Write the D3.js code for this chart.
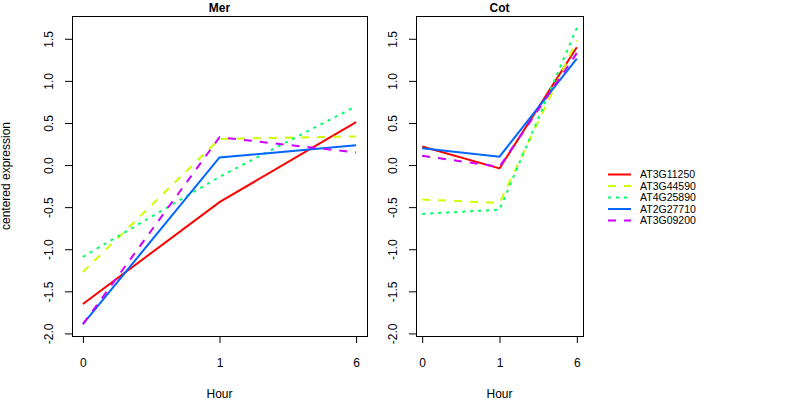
<!DOCTYPE html>
<html>
<head>
<meta charset="utf-8">
<script src="https://cdn.jsdelivr.net/npm/d3@7"></script>
<style>
  body { margin: 0; background: #fff; }
  text { font-family: "Liberation Sans", Arial, sans-serif; }
</style>
</head>
<body>
<svg id="chart" width="800" height="400"></svg>
<script>
var hours = ["0", "1", "6"];
var genes = ["AT3G11250", "AT3G44590", "AT4G25890", "AT2G27710", "AT3G09200"];
var panels = ["Mer", "Cot"];

// une ligne par gene, colonnes = heures
var merValues = [
  [-1.65, -0.44, 0.51],
  [-1.27, 0.31, 0.34],
  [-1.09, -0.14, 0.70],
  [-1.89, 0.09, 0.235],
  [-1.89, 0.33, 0.15]
];
var cotValues = [
  [0.22, -0.04, 1.40],
  [-0.41, -0.45, 1.48],
  [-0.58, -0.53, 1.63],
  [0.20, 0.10, 1.265],
  [0.11, -0.02, 1.33]
];

var yTicks = [-2, -1.5, -1, -0.5, 0, 0.5, 1, 1.5];
var yTickLabels = ["-2.0", "-1.5", "-1.0", "-0.5", "0.0", "0.5", "1.0", "1.5"];

var colors = ["#FF0000", "#CCFF00", "#00FF66", "#0066FF", "#CC00FF"];
var dashes = [null, "8,8", "3,5", null, "8,8"];

var svg = d3.select("#chart"),
    plotTop = 16,
    plotBottom = 336;

var layout = [
  { name: panels[0], values: merValues, x0: 72, x1: 367 },
  { name: panels[1], values: cotValues, x0: 416, x1: 583 }
];

// ylim commun aux deux panneaux, elargi de 4% comme R
var all = merValues.concat(cotValues).reduce(function(a, b) { return a.concat(b); }, []);
var lo = d3.min(all), hi = d3.max(all), ext = (hi - lo) * 0.04;

var y = d3.scaleLinear()
    .domain([lo - ext, hi + ext])
    .range([plotBottom, plotTop]);

layout.forEach(function(p) {
  var x = d3.scalePoint()
      .domain(hours)
      .range([p.x0, p.x1])
      .padding(0.08);

  var g = svg.append("g");

  var line = d3.line()
      .x(function(d, i) { return x(hours[i]); })
      .y(function(d) { return y(d); });

  g.append("g")
    .selectAll("path")
    .data(p.values)
    .enter().append("path")
      .attr("d", line)
      .attr("fill", "none")
      .attr("stroke", function(d, i) { return colors[i]; })
      .attr("stroke-width", 2)
      .attr("stroke-dasharray", function(d, i) { return dashes[i]; });

  // axe x
  var xAxis = g.append("g")
      .attr("transform", "translate(0," + plotBottom + ")")
      .call(d3.axisBottom(x).tickSize(7).tickSizeOuter(0));
  xAxis.selectAll("text")
      .attr("y", 31)
      .attr("dy", 0)
      .attr("fill", "#000")
      .attr("font-size", 12);

  // axe y, etiquettes tournees
  var yAxis = g.append("g")
      .attr("transform", "translate(" + p.x0 + ",0)")
      .call(d3.axisLeft(y).tickValues(yTicks)
        .tickFormat(function(d, i) { return yTickLabels[i]; })
        .tickSize(7).tickSizeOuter(0));
  yAxis.selectAll("text")
      .attr("x", 0)
      .attr("y", -19)
      .attr("dy", 0)
      .attr("transform", "rotate(-90)")
      .attr("text-anchor", "middle")
      .attr("fill", "#000")
      .attr("font-size", 12);

  svg.selectAll(".domain").attr("stroke", "#000");
  svg.selectAll(".tick line").attr("stroke", "#000");
  svg.selectAll(".tick text").attr("font-family", "Liberation Sans, Arial, sans-serif");

  // cadre
  g.append("rect")
      .attr("x", p.x0 + 0.5)
      .attr("y", plotTop + 0.5)
      .attr("width", p.x1 - p.x0)
      .attr("height", plotBottom - plotTop)
      .attr("fill", "none")
      .attr("stroke", "#000");

  g.append("text")
      .attr("x", (p.x0 + p.x1) / 2)
      .attr("y", 12)
      .attr("text-anchor", "middle")
      .attr("font-size", 12)
      .attr("font-weight", "bold")
      .text(p.name);

  g.append("text")
      .attr("x", (p.x0 + p.x1) / 2)
      .attr("y", 398)
      .attr("text-anchor", "middle")
      .attr("font-size", 12)
      .text("Hour");
});

svg.append("text")
    .attr("transform", "translate(10," + (plotTop + plotBottom) / 2 + ")rotate(-90)")
    .attr("text-anchor", "middle")
    .attr("font-size", 12)
    .text("centered expression");

// legende
var legend = svg.append("g")
  .selectAll("g")
  .data(genes)
  .enter().append("g")
    .attr("transform", function(d, i) { return "translate(608," + (174.5 + i * 11.5) + ")"; });

legend.append("line")
    .attr("x1", 0)
    .attr("x2", 23)
    .attr("stroke", function(d, i) { return colors[i]; })
    .attr("stroke-width", 2)
    .attr("stroke-dasharray", function(d, i) { return dashes[i]; });

legend.append("text")
    .attr("x", 32)
    .attr("dy", "0.35em")
    .attr("font-size", 10.5)
    .text(function(d) { return d; });
</script>
</body>
</html>
